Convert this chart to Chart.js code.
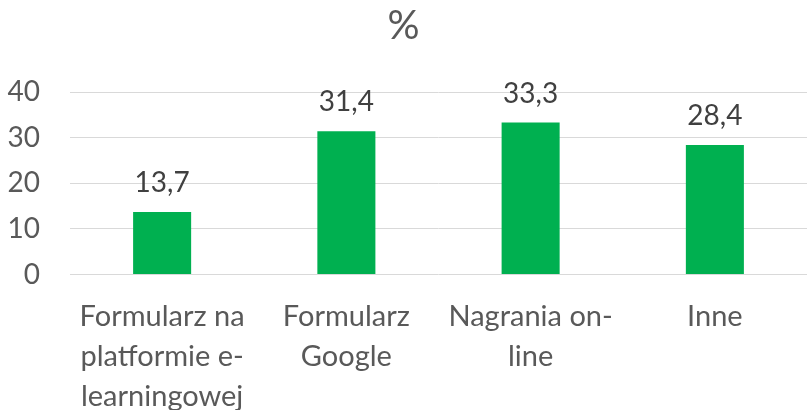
<!DOCTYPE html>
<html><head><meta charset="utf-8">
<script src="https://cdn.jsdelivr.net/npm/chart.js@4/dist/chart.umd.min.js"></script>
<style>html,body{margin:0;padding:0;background:#fff}#wrap{width:807px;height:410px;position:relative}</style>
</head><body><div id="wrap"><canvas id="c"></canvas></div>
<script>
const categories = [["Formularz na","platformie e-","learningowej"],["Formularz","Google"],["Nagrania on-","line"],["Inne"]];
const values = [13.7, 31.4, 33.3, 28.4];
const yTicks = [0, 10, 20, 30, 40];
const chartTitle = "%";

const FONT = "Lato";
const TXT = "#595959";

const valueLabels = {
  id: 'valueLabels',
  afterDatasetsDraw(chart) {
    const ctx = chart.ctx;
    const meta = chart.getDatasetMeta(0);
    ctx.save();
    ctx.font = "28px " + FONT;
    ctx.fillStyle = "#404040";
    ctx.textAlign = "center";
    ctx.textBaseline = "alphabetic";
    meta.data.forEach((bar, i) => {
      ctx.fillText(values[i].toFixed(1).replace('.', ','), bar.x, bar.y - 20);
    });
    ctx.restore();
  }
};

new Chart(document.getElementById('c'), {
  type: 'bar',
  data: {
    labels: categories,
    datasets: [{
      data: values,
      backgroundColor: '#00B050',
      barPercentage: 0.315,
      categoryPercentage: 1.0
    }]
  },
  options: {
    responsive: true,
    maintainAspectRatio: false,
    animation: false,
    layout: { padding: { top: 0, right: 0, bottom: 0, left: 0 } },
    plugins: {
      legend: { display: false },
      tooltip: { enabled: false },
      title: {
        display: true,
        text: chartTitle,
        color: TXT,
        font: { family: FONT, size: 40, weight: 'normal', lineHeight: 1.2 },
        padding: { top: 2, bottom: 42 }
      }
    },
    scales: {
      x: {
        grid: { display: false },
        border: { display: false },
        ticks: {
          color: TXT,
          font: { family: FONT, size: 29, lineHeight: 1.38 },
          padding: 14,
          maxRotation: 0,
          autoSkip: false
        },
        afterFit(scale) { scale.height = 135.5; }
      },
      y: {
        min: 0,
        max: 40,
        afterBuildTicks(scale) { scale.ticks = yTicks.map(v => ({ value: v })); },
        grid: { color: '#d9d9d9', lineWidth: 1, drawTicks: false },
        border: { display: false },
        ticks: {
          color: TXT,
          font: { family: FONT, size: 28 },
          padding: 30
        },
        afterFit(scale) { scale.width = 70; }
      }
    }
  },
  plugins: [valueLabels]
});
</script>
</body></html>
